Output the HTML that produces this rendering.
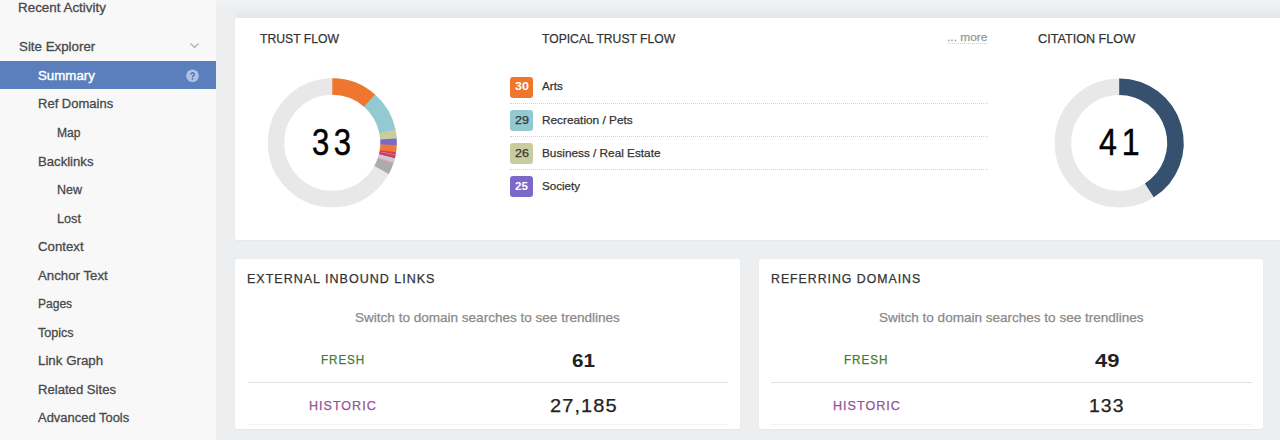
<!DOCTYPE html>
<html><head><meta charset="utf-8">
<style>
*{box-sizing:border-box;margin:0;padding:0}
html,body{width:1280px;height:440px;overflow:hidden;background:#edeef0;font-family:"Liberation Sans",sans-serif}
.abs{position:absolute}
.side{position:absolute;left:0;top:0;width:216px;height:440px;background:#f8f8f8}
.selbar{position:absolute;left:0;top:60.5px;width:216px;height:28px;background:#5b7fbd}
.card{position:absolute;background:#fff;border-radius:2.5px;box-shadow:0 1px 2px rgba(0,0,0,.04)}
.t{position:absolute;white-space:nowrap;line-height:20px;transform-origin:0 50%;display:block}
.bdg{position:absolute;left:510px;width:23px;height:21px;border-radius:3px}
.dot{position:absolute;left:510px;width:478px;height:0;border-top:1px dotted #d2d2d2}
.more{position:absolute;left:948px;width:39px;top:42.5px;height:0;border-top:1px dotted #ccc}
.hr{position:absolute;height:1px;background:#e1e1e1;top:381.5px}
.hr2{position:absolute;height:1px;background:#f3f6f8;top:424px}
</style></head><body>
<div class="side"></div>
<div class="selbar"></div>
<div class="abs" style="left:216px;top:0;width:1064px;height:9px;background:linear-gradient(to bottom,rgba(255,255,255,.22),rgba(255,255,255,0))"></div>
<div class="abs" style="left:236px;top:8px;width:1044px;height:11px;background:linear-gradient(to bottom,rgba(0,0,0,0),rgba(0,0,0,.04))"></div>
<div class="card" style="left:235px;top:18px;width:1060px;height:222px"></div>
<div class="card" style="left:235px;top:259px;width:505px;height:169.5px"></div>
<div class="card" style="left:759px;top:259px;width:504px;height:169.5px"></div>
<div class="bdg" style="top:76.70px;background:#ee762f"></div><div class="bdg" style="top:109.85px;background:#93c9d1"></div><div class="bdg" style="top:143.00px;background:#c9cd9d"></div><div class="bdg" style="top:176.15px;background:#7b68c9"></div><div class="dot" style="top:103.3px"></div><div class="dot" style="top:136.3px"></div><div class="dot" style="top:169.3px"></div>
<div class="more"></div>
<div class="hr" style="left:247.5px;width:480.5px"></div>
<div class="hr" style="left:771px;width:481px"></div>
<div class="hr2" style="left:247.5px;width:480.5px"></div>
<div class="hr2" style="left:771px;width:481px"></div>
<svg class="abs" style="left:0;top:0" width="1280" height="440" viewBox="0 0 1280 440">
<circle cx="332.3" cy="142.8" r="56.25" stroke="#e8e8e8" stroke-width="16.5" fill="none"/>
<path d="M332.30 86.55A56.25 56.25 0 0 1 369.79 100.87" stroke="#ee762f" stroke-width="16.5" fill="none"/>
<path d="M369.57 100.67A56.25 56.25 0 0 1 387.42 131.59" stroke="#93c9d1" stroke-width="16.5" fill="none"/>
<path d="M387.36 131.30A56.25 56.25 0 0 1 388.44 139.27" stroke="#c9cd9d" stroke-width="16.5" fill="none"/>
<path d="M388.42 138.97A56.25 56.25 0 0 1 388.50 145.06" stroke="#7b68c9" stroke-width="16.5" fill="none"/>
<path d="M388.52 144.76A56.25 56.25 0 0 1 387.89 151.41" stroke="#f07a30" stroke-width="16.5" fill="none"/>
<path d="M387.93 151.11A56.25 56.25 0 0 1 387.57 153.24" stroke="#c93f5e" stroke-width="16.5" fill="none"/>
<path d="M387.63 152.95A56.25 56.25 0 0 1 387.44 153.92" stroke="#e0709a" stroke-width="16.5" fill="none"/>
<path d="M387.50 153.63A56.25 56.25 0 0 1 386.83 156.60" stroke="#c93f5e" stroke-width="16.5" fill="none"/>
<path d="M386.90 156.31A56.25 56.25 0 0 1 385.83 160.09" stroke="#cccad6" stroke-width="16.5" fill="none"/>
<path d="M385.92 159.81A56.25 56.25 0 0 1 385.45 161.21" stroke="#e3a3c6" stroke-width="16.5" fill="none"/>
<path d="M385.55 160.93A56.25 56.25 0 0 1 381.59 169.90" stroke="#ababab" stroke-width="16.5" fill="none"/>
<circle cx="1119.2" cy="142.9" r="56.25" stroke="#e8e8e8" stroke-width="16.5" fill="none"/>
<path d="M1119.20 86.65A56.25 56.25 0 0 1 1149.34 190.39" stroke="#35516f" stroke-width="16.5" fill="none"/>
<path d="M190.5 43.6L194.5 47.3L198.5 43.6" stroke="#b0b0b0" stroke-width="1.3" fill="none"/>
<circle cx="192.5" cy="75.7" r="6.3" fill="#aec2e5"/>
<g transform="translate(192.5 75.9) scale(.86) translate(-192.5 -75.9)"><path d="M190.6 74.2a1.95 1.95 0 1 1 3 1.65c-.75.45-1.05.8-1.05 1.6" stroke="#4a6dac" stroke-width="1.6" fill="none"/><circle cx="192.55" cy="79.3" r="1" fill="#4a6dac"/></g>
</svg>
<span class="t" style="left:18.42px;top:-1.80px;font-size:13.7px;color:#484848;transform:scaleX(0.9791);-webkit-text-stroke:0.3px #484848">Recent Activity</span>
<span class="t" style="left:19.00px;top:36.90px;font-size:13.7px;color:#484848;transform:scaleX(0.9734);-webkit-text-stroke:0.3px #484848">Site Explorer</span>
<span class="t" style="left:38.00px;top:65.50px;font-size:13.7px;color:#fff;transform:scaleX(0.9708);-webkit-text-stroke:0.4px #fff">Summary</span>
<span class="t" style="left:37.65px;top:94.40px;font-size:13.7px;color:#484848;transform:scaleX(0.9506);-webkit-text-stroke:0.3px #484848">Ref Domains</span>
<span class="t" style="left:56.62px;top:122.90px;font-size:13.7px;color:#484848;transform:scaleX(0.8841);-webkit-text-stroke:0.3px #484848">Map</span>
<span class="t" style="left:37.64px;top:151.50px;font-size:13.7px;color:#484848;transform:scaleX(0.9593);-webkit-text-stroke:0.3px #484848">Backlinks</span>
<span class="t" style="left:56.58px;top:180.00px;font-size:13.7px;color:#484848;transform:scaleX(0.9152);-webkit-text-stroke:0.3px #484848">New</span>
<span class="t" style="left:56.68px;top:208.50px;font-size:13.7px;color:#484848;transform:scaleX(0.9235);-webkit-text-stroke:0.3px #484848">Lost</span>
<span class="t" style="left:38.00px;top:237.10px;font-size:13.7px;color:#484848;transform:scaleX(0.9658);-webkit-text-stroke:0.3px #484848">Context</span>
<span class="t" style="left:37.80px;top:265.60px;font-size:13.7px;color:#484848;transform:scaleX(0.9687);-webkit-text-stroke:0.3px #484848">Anchor Text</span>
<span class="t" style="left:37.72px;top:294.10px;font-size:13.7px;color:#484848;transform:scaleX(0.8797);-webkit-text-stroke:0.3px #484848">Pages</span>
<span class="t" style="left:37.80px;top:322.60px;font-size:13.7px;color:#484848;transform:scaleX(0.9191);-webkit-text-stroke:0.3px #484848">Topics</span>
<span class="t" style="left:37.63px;top:351.10px;font-size:13.7px;color:#484848;transform:scaleX(0.9733);-webkit-text-stroke:0.3px #484848">Link Graph</span>
<span class="t" style="left:37.64px;top:379.70px;font-size:13.7px;color:#484848;transform:scaleX(0.9582);-webkit-text-stroke:0.3px #484848">Related Sites</span>
<span class="t" style="left:37.80px;top:408.30px;font-size:13.7px;color:#484848;transform:scaleX(0.9464);-webkit-text-stroke:0.3px #484848">Advanced Tools</span>
<span class="t" style="left:259.80px;top:28.60px;font-size:13.7px;color:#333;transform:scaleX(0.8895);-webkit-text-stroke:0.25px #333">TRUST FLOW</span>
<span class="t" style="left:541.90px;top:28.60px;font-size:13.7px;color:#333;transform:scaleX(0.8871);-webkit-text-stroke:0.25px #333">TOPICAL TRUST FLOW</span>
<span class="t" style="left:1038.40px;top:28.60px;font-size:13.7px;color:#333;transform:scaleX(0.9234);-webkit-text-stroke:0.25px #333">CITATION FLOW</span>
<span class="t" style="left:946.97px;top:27.00px;font-size:11.6px;color:#999;transform:scaleX(1.0304);-webkit-text-stroke:0.25px #999">... more</span>
<span class="t" style="left:312.28px;top:132.40px;font-size:37.8px;color:#000;transform:scaleX(0.8212);letter-spacing:5.4px;-webkit-text-stroke:0.5px #000">33</span>
<span class="t" style="left:1098.70px;top:133.40px;font-size:36.6px;color:#000;transform:scaleX(0.8775);letter-spacing:5.5px;-webkit-text-stroke:0.5px #000">41</span>
<span class="t" style="left:515.10px;top:76.40px;font-size:11.5px;color:#fff;transform:scaleX(1.0891);font-weight:bold">30</span>
<span class="t" style="left:515.10px;top:110.10px;font-size:11.5px;color:#333;transform:scaleX(1.0891);-webkit-text-stroke:0.25px #333">29</span>
<span class="t" style="left:515.10px;top:143.00px;font-size:11.5px;color:#333;transform:scaleX(1.0891);-webkit-text-stroke:0.25px #333">26</span>
<span class="t" style="left:515.10px;top:175.90px;font-size:11.5px;color:#fff;transform:scaleX(1.0078);font-weight:bold">25</span>
<span class="t" style="left:542.10px;top:76.40px;font-size:11.8px;color:#333;transform:scaleX(0.9870);-webkit-text-stroke:0.25px #333">Arts</span>
<span class="t" style="left:542.20px;top:110.10px;font-size:11.8px;color:#333;transform:scaleX(1.0023);-webkit-text-stroke:0.25px #333">Recreation / Pets</span>
<span class="t" style="left:542.20px;top:143.00px;font-size:11.8px;color:#333;transform:scaleX(0.9981);-webkit-text-stroke:0.25px #333">Business / Real Estate</span>
<span class="t" style="left:542.20px;top:175.90px;font-size:11.8px;color:#333;transform:scaleX(0.9849);-webkit-text-stroke:0.25px #333">Society</span>
<span class="t" style="left:247.21px;top:269.00px;font-size:12.6px;color:#333;transform:scaleX(0.9944);letter-spacing:1px;-webkit-text-stroke:0.25px #333">EXTERNAL INBOUND LINKS</span>
<span class="t" style="left:770.62px;top:269.00px;font-size:12.6px;color:#333;transform:scaleX(0.9785);letter-spacing:1px;-webkit-text-stroke:0.25px #333">REFERRING DOMAINS</span>
<span class="t" style="left:355.20px;top:307.60px;font-size:12.8px;color:#8a8a8a;transform:scaleX(1.0577);-webkit-text-stroke:0.25px #8a8a8a">Switch to domain searches to see trendlines</span>
<span class="t" style="left:878.75px;top:307.60px;font-size:12.8px;color:#8a8a8a;transform:scaleX(1.0567);-webkit-text-stroke:0.25px #8a8a8a">Switch to domain searches to see trendlines</span>
<span class="t" style="left:320.97px;top:349.90px;font-size:12.6px;color:#457a2e;transform:scaleX(0.9257);letter-spacing:1px;-webkit-text-stroke:0.25px #457a2e">FRESH</span>
<span class="t" style="left:844.37px;top:349.90px;font-size:12.6px;color:#457a2e;transform:scaleX(0.9279);letter-spacing:1px;-webkit-text-stroke:0.25px #457a2e">FRESH</span>
<span class="t" style="left:309.30px;top:395.90px;font-size:12.6px;color:#94529b;transform:scaleX(0.9962);letter-spacing:1px;-webkit-text-stroke:0.25px #94529b">HISTORIC</span>
<span class="t" style="left:832.70px;top:395.90px;font-size:12.6px;color:#94529b;transform:scaleX(0.9993);letter-spacing:1px;-webkit-text-stroke:0.25px #94529b">HISTORIC</span>
<span class="t" style="left:571.60px;top:350.80px;font-size:18px;color:#222;transform:scaleX(1.1494);font-weight:bold">61</span>
<span class="t" style="left:1094.90px;top:350.80px;font-size:18px;color:#222;transform:scaleX(1.2193);font-weight:bold">49</span>
<span class="t" style="left:550.20px;top:396.40px;font-size:18.4px;color:#222;transform:scaleX(1.0881);letter-spacing:1px;-webkit-text-stroke:0.25px #222">27,185</span>
<span class="t" style="left:1089.34px;top:396.40px;font-size:18.4px;color:#222;transform:scaleX(1.0554);letter-spacing:1px;-webkit-text-stroke:0.25px #222">133</span>
</body></html>
